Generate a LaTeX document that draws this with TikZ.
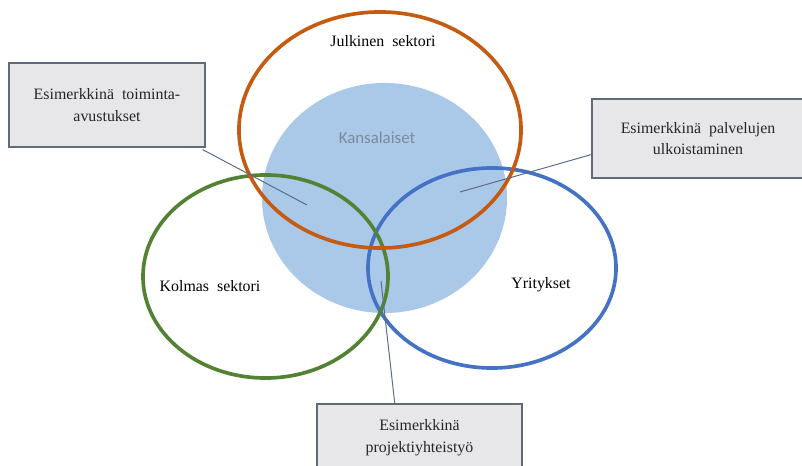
\documentclass[tikz,border=0pt]{standalone}
\usepackage{fontspec}
\setmainfont{Liberation Serif}
\newfontfamily\kansafont{Carlito}
\usetikzlibrary{positioning,calc,shapes.geometric}
\definecolor{SekOrange}{RGB}{197,90,17}
\definecolor{SekGreen}{RGB}{84,130,53}
\definecolor{SekBlue}{RGB}{68,114,196}
\definecolor{SekDisc}{RGB}{170,200,232}
\definecolor{SekFrame}{RGB}{96,106,122}
\definecolor{SekBoxFill}{RGB}{231,231,233}
\definecolor{SekLine}{RGB}{92,108,136}
\definecolor{SekGrayText}{RGB}{126,138,154}
\tikzset{
  sek/disc/.style={
    ellipse,
    fill=SekDisc,
    inner sep=0pt
  },
  sek/ring/.style={
    ellipse,
    line width=2.6pt,
    inner sep=0pt
  },
  sek/box/.style={
    draw=SekFrame,
    line width=0.8pt,
    fill=SekBoxFill,
    align=center,
    text=black!85,
    inner sep=0pt,
    font=\fontsize{11.3}{15.4}\selectfont
  },
  sek/label/.style={font=\fontsize{11.3}{13}\selectfont, text=black},
  sek/pointer/.style={draw=SekLine, line width=0.7pt}
}

\begin{document}
\begin{tikzpicture}[x=0.025cm,y=-0.025cm]
  \useasboundingbox (0,0) rectangle (802,466);
  % citizens in the middle
  \node[sek/disc,minimum width=6.125cm,minimum height=5.75cm] (kansalaiset) at (384.5,198) {};
  \node[font=\kansafont\fontsize{12}{14}\selectfont,text=SekGrayText] (kansalaisetlbl) at (377,138) {Kansalaiset};
  % the three sectors
  \node[sek/ring,draw=SekBlue,minimum width=6.2cm,minimum height=5.0cm] (yritykset) at (492,268) {};
  \node[sek/ring,draw=SekGreen,minimum width=6.125cm,minimum height=5.075cm] (kolmas) at (265.5,276.5) {};
  \node[sek/ring,draw=SekOrange,minimum width=7.05cm,minimum height=5.9cm] (julkinen) at (380,130) {};
  \node[sek/label] (julkinenlbl) at (383,41) {Julkinen\ \ sektori};
  \node[sek/label] (kolmaslbl) at (210,286) {Kolmas\ \ sektori};
  \node[sek/label] (yrityksetlbl) at (541,285) {Yritykset};
  % example boxes
  \node[sek/box,minimum width=4.9cm,minimum height=2.1cm] (ex1) at (107,105) {Esimerkkinä\ \ toiminta-\\avustukset};
  \node[sek/box,minimum width=5.3cm,minimum height=1.975cm] (ex2) at (698,138.5) {Esimerkkinä\ \ palvelujen\\ulkoistaminen};
  \node[sek/box,minimum width=5.125cm,minimum height=1.675cm] (ex3) at (419.5,437.5) {Esimerkkinä\\projektiyhteistyö};
  \coordinate (tip1) at (307,205);
  \coordinate (tip2) at (460,192);
  \coordinate (tip3) at (381,281);
  \draw[sek/pointer] ($(ex1.south east)+(-3,2)$) -- (tip1);
  \draw[sek/pointer] ($(ex2.south west)!0.3!(ex2.north west)$) -- (tip2);
  \draw[sek/pointer] ($(ex3.north west)!0.38!(ex3.north east)$) -- (tip3);
\end{tikzpicture}
\end{document}
